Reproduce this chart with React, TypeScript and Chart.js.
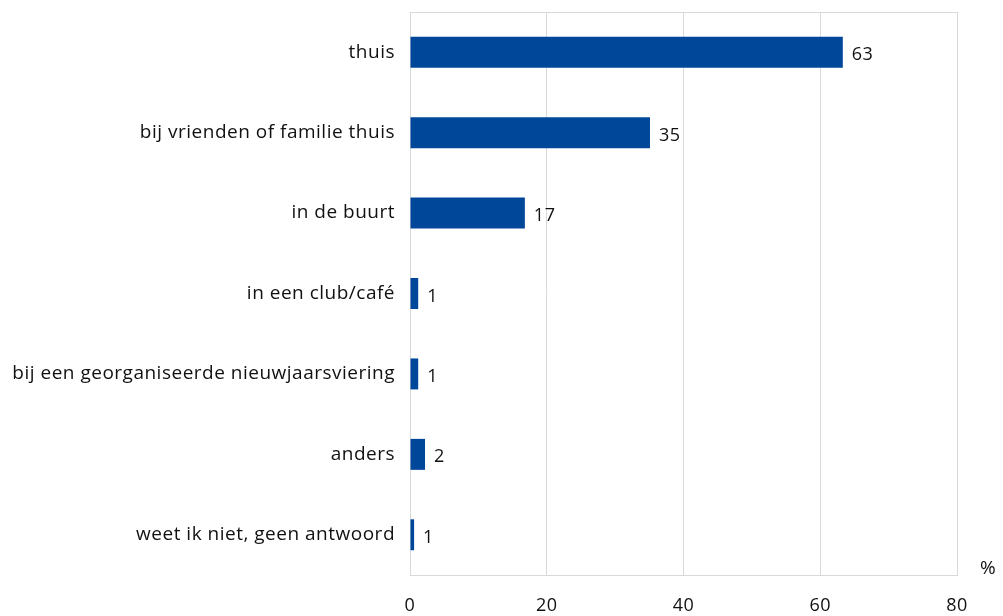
import React, { useEffect, useRef } from "react";
import { Chart, registerables } from "chart.js";

Chart.register(...registerables);

const categories = [
  "thuis",
  "bij vrienden of familie thuis",
  "in de buurt",
  "in een club/café",
  "bij een georganiseerde nieuwjaarsviering",
  "anders",
  "weet ik niet, geen antwoord",
];
const values = [63.3, 35.1, 16.8, 1.2, 1.2, 2.2, 0.6];
const valueLabels = ["63", "35", "17", "1", "1", "2", "1"];
const xTicks = [0, 20, 40, 60, 80];
const unitLabel = "%";

const FONT = "'Open Sans', sans-serif";
const BAR = "#00479A";
const GRID = "#d9d9d9";

export default function App() {
  const ref = useRef<HTMLCanvasElement | null>(null);

  useEffect(() => {
    if (!ref.current) return;
    const borderPlugin = {
      id: "plotBorder",
      beforeDraw(chart: any) {
        chart.ctx.letterSpacing = "0.5px";
      },
      beforeDatasetsDraw(chart: any) {
        const { ctx, chartArea } = chart;
        ctx.save();
        ctx.strokeStyle = GRID;
        ctx.lineWidth = 1;
        ctx.strokeRect(
          Math.round(chartArea.left) + 0.5,
          Math.round(chartArea.top) + 0.5,
          Math.round(chartArea.right - chartArea.left),
          Math.round(chartArea.bottom - chartArea.top)
        );
        ctx.restore();
      },
      afterDatasetsDraw(chart: any) {
        const { ctx } = chart;
        const meta = chart.getDatasetMeta(0);
        ctx.save();
        ctx.fillStyle = "#111";
        ctx.font = `18px ${FONT}`;
        ctx.textAlign = "left";
        ctx.textBaseline = "middle";
        meta.data.forEach((el: any, i: number) => {
          ctx.fillText(valueLabels[i], el.x + 9, el.y + 3);
        });
        ctx.font = `19px ${FONT}`;
        ctx.fillText(unitLabel, 980, 569);
        ctx.restore();
      },
    };

    const chart = new Chart(ref.current, {
      type: "bar",
      data: {
        labels: categories,
        datasets: [
          {
            data: values,
            backgroundColor: BAR,
            borderWidth: 0,
            barPercentage: 0.77,
            categoryPercentage: 0.5,
          },
        ],
      },
      options: {
        indexAxis: "y",
        animation: false,
        responsive: false,
        maintainAspectRatio: false,
        layout: { padding: { top: 12, right: 46, left: 0, bottom: 0 } },
        plugins: {
          legend: { display: false },
          tooltip: { enabled: false },
        },
        scales: {
          x: {
            min: 0,
            max: 80,
            afterBuildTicks(axis: any) {
              axis.ticks = xTicks.map((v) => ({ value: v }));
            },
            afterFit(axis: any) {
              axis.height = 41;
              axis.paddingLeft = 0;
              axis.paddingRight = 0;
            },
            grid: { color: GRID, drawTicks: false },
            border: { display: true, color: GRID },
            ticks: {
              padding: 20,
              color: "#111",
              font: { family: FONT, size: 18 },
              maxRotation: 0,
            },
          },
          y: {
            afterFit(axis: any) {
              axis.width = 410;
              axis.paddingTop = 0;
              axis.paddingBottom = 0;
            },
            grid: { display: false, drawTicks: false },
            border: { display: true, color: GRID },
            ticks: {
              padding: 15,
              color: "#111",
              font: { family: FONT, size: 19 },
            },
          },
        },
      },
      plugins: [borderPlugin],
    });
    return () => chart.destroy();
  }, []);

  return (
    <div style={{ position: "absolute", left: 0, top: 0, width: 1003, height: 616 }}>
      <canvas ref={ref} width={1003} height={616} />
    </div>
  );
}
